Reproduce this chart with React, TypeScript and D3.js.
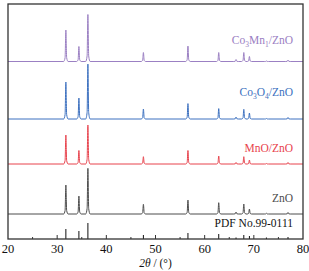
import React, { useEffect, useRef } from 'react';
import * as d3 from 'd3';

// ZnO reflections (2θ, degrees)
const peakPositions = [31.77, 34.42, 36.25, 47.54, 56.6, 62.86, 66.38, 67.96, 69.1, 72.56, 76.95];

// PDF No.99-0111 reference stick intensities
const pdfIntensity = [10, 8, 16, 4, 6, 5, 1.5, 4, 3, 1.5, 2];

// Peak heights for each sample (a.u.) and vertical offsets of the stacked patterns
const seriesNames = ['ZnO', 'MnO/ZnO', 'Co3O4/ZnO', 'Co3Mn1/ZnO'];
const seriesOffsets = [25, 75, 120, 177.5];
const znoHeights = [29, 18, 45.7, 9.7, 14, 11.3, 2, 10, 5, 0.7, 1.5];
const mnoHeights = [29, 13.5, 39, 7.3, 13.5, 8, 1.5, 7.3, 4, 0.5, 1.5];
const co3o4Heights = [37, 21, 55, 10, 15.4, 10.4, 2, 9.7, 6, 0.5, 1.5];
const co3mn1Heights = [31.5, 15, 47, 9, 15.5, 9, 2, 9, 5, 0.5, 1.5];
const seriesHeights = [znoHeights, mnoHeights, co3o4Heights, co3mn1Heights];
const seriesColors = ['#4d4d4d', '#e8434d', '#3d71c0', '#9b80c3'];

const xTicks = [20, 30, 40, 50, 60, 70, 80];
const xMinorTicks = [25, 35, 45, 55, 65, 75];

const W = 309;
const H = 271;

const App: React.FC = () => {
  const svgRef = useRef<SVGSVGElement>(null);

  useEffect(() => {
    if (!svgRef.current) return;
    const svg = d3.select(svgRef.current);
    svg.selectAll('*').remove();

    const margin = { top: 4, right: 6, bottom: 32, left: 8 };
    const x = d3.scaleLinear().domain([20, 80]).range([margin.left, W - margin.right]);
    const y = d3.scaleLinear().domain([0, 235]).range([H - margin.bottom, margin.top]);

    const font = '"Liberation Serif", "Times New Roman", serif';

    // patterns
    const line = d3.line<[number, number]>()
      .x(d => x(d[0]))
      .y(d => y(d[1]))
      .curve(d3.curveMonotoneX);

    seriesNames.forEach((name, si) => {
      const off = seriesOffsets[si];
      const pts: [number, number][] = [[20, off]];
      peakPositions.forEach((p, i) => {
        const h = seriesHeights[si][i];
        pts.push([p - 0.45, off]);
        pts.push([p - 0.16, off + h * 0.12]);
        pts.push([p, off + h]);
        pts.push([p + 0.16, off + h * 0.12]);
        pts.push([p + 0.45, off]);
      });
      pts.push([80, off]);
      svg.append('path')
        .attr('d', line(pts) || '')
        .attr('fill', 'none')
        .attr('stroke', seriesColors[si])
        .attr('stroke-width', 1);
    });

    // PDF sticks
    svg.append('g')
      .selectAll('line')
      .data(peakPositions)
      .enter()
      .append('line')
      .attr('x1', d => x(d))
      .attr('x2', d => x(d))
      .attr('y1', y(0))
      .attr('y2', (d, i) => y(pdfIntensity[i]))
      .attr('stroke', '#111')
      .attr('stroke-width', 1);

    // inward ticks on the bottom axis
    svg.append('g')
      .selectAll('line')
      .data(xTicks.slice(1, -1))
      .enter()
      .append('line')
      .attr('x1', d => x(d))
      .attr('x2', d => x(d))
      .attr('y1', y(0))
      .attr('y2', y(0) - 4)
      .attr('stroke', '#333');
    svg.append('g')
      .selectAll('line')
      .data(xMinorTicks)
      .enter()
      .append('line')
      .attr('x1', d => x(d))
      .attr('x2', d => x(d))
      .attr('y1', y(0))
      .attr('y2', y(0) - 2)
      .attr('stroke', '#333');

    // frame
    svg.append('rect')
      .attr('x', x(20))
      .attr('y', y(235))
      .attr('width', x(80) - x(20))
      .attr('height', y(0) - y(235))
      .attr('fill', 'none')
      .attr('stroke', '#333')
      .attr('stroke-width', 1.3);

    // tick labels
    svg.append('g')
      .selectAll('text')
      .data(xTicks)
      .enter()
      .append('text')
      .attr('x', d => x(d))
      .attr('y', y(0) + 13.5)
      .attr('text-anchor', 'middle')
      .attr('font-family', font)
      .attr('font-size', 12.5)
      .attr('fill', '#111')
      .text(d => d);

    // axis title
    const title = svg.append('text')
      .attr('x', (x(20) + x(80)) / 2)
      .attr('y', H - 4)
      .attr('text-anchor', 'middle')
      .attr('font-family', font)
      .attr('font-size', 11.5)
      .attr('fill', '#111');
    title.append('tspan').attr('font-style', 'italic').text('2θ');
    title.append('tspan').text(' / (°)');

    // series labels
    const labelX = x(80) - 10;
    const labelY = [202, 152, 96, 44];
    const labelParts: [string, boolean][][] = [
      [['ZnO', false]],
      [['MnO/ZnO', false]],
      [['Co', false], ['3', true], ['O', false], ['4', true], ['/ZnO', false]],
      [['Co', false], ['3', true], ['Mn', false], ['1', true], ['/ZnO', false]],
    ];
    labelParts.forEach((parts, si) => {
      const t = svg.append('text')
        .attr('x', labelX)
        .attr('y', labelY[si])
        .attr('text-anchor', 'end')
        .attr('font-family', font)
        .attr('font-size', 11.5)
        .attr('fill', seriesColors[si]);
      parts.forEach(([s, sub]) => {
        const ts = t.append('tspan').text(s);
        if (sub) ts.attr('font-size', 7.5).attr('dy', 2.5);
        else ts.attr('dy', 0);
      });
      // reset baseline after subscripts
      t.selectAll('tspan').each(function (_, i, nodes) {
        const prev = i > 0 ? parts[i - 1][1] : false;
        if (!parts[i][1] && prev) d3.select(nodes[i] as SVGTSpanElement).attr('dy', -2.5);
      });
    });

    svg.append('text')
      .attr('x', labelX)
      .attr('y', 227)
      .attr('text-anchor', 'end')
      .attr('font-family', font)
      .attr('font-size', 11.5)
      .attr('fill', '#111')
      .text('PDF No.99-0111');
  }, []);

  return (
    <svg ref={svgRef} width={W} height={H} style={{ position: 'absolute', left: 0, top: 0 }} />
  );
};

export default App;
